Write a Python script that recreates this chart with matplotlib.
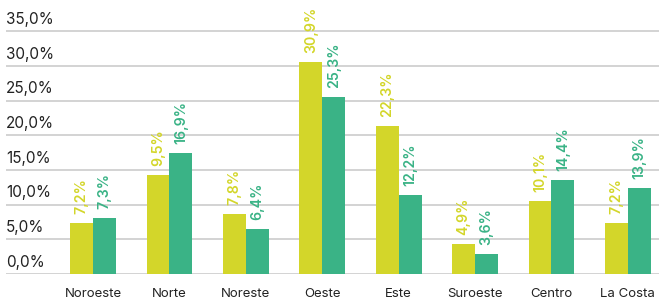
import matplotlib.pyplot as plt
import matplotlib.transforms as mtransforms
import numpy as np

plt.rcParams['font.family'] = ['Inter', 'DejaVu Sans']

regions = ['Noroeste', 'Norte', 'Noreste', 'Oeste', 'Este', 'Suroeste', 'Centro', 'La Costa']
# bar heights as drawn
yellow_vals = [7.35, 14.3, 8.65, 30.5, 21.3, 4.3, 10.5, 7.35]
green_vals = [8.05, 17.4, 6.5, 25.5, 11.4, 2.9, 13.5, 12.4]
# labels printed on the bars
yellow_labels = ['7,2%', '9,5%', '7,8%', '30,9%', '22,3%', '4,9%', '10,1%', '7,2%']
green_labels = ['7,3%', '16,9%', '6,4%', '25,3%', '12,2%', '3,6%', '14,4%', '13,9%']
yticks = [0, 5, 10, 15, 20, 25, 30, 35]

yellow = '#d3d62a'
green = '#3ab386'

fig = plt.figure(figsize=(6.59, 3.02), dpi=100)
ax = fig.add_axes([6 / 659, 28 / 302, 653 / 659, 274 / 302])

x = np.arange(len(regions))
w = 0.30
ax.bar(x - w / 2, yellow_vals, w, color=yellow, zorder=3)
ax.bar(x + w / 2, green_vals, w, color=green, zorder=3)

off = mtransforms.offset_copy(ax.transData, fig=fig, x=0, y=6.5, units='points')
for i in range(len(regions)):
    ax.text(x[i] - w / 2, yellow_vals[i], yellow_labels[i], rotation=90, ha='center', va='bottom',
            color=yellow, fontsize=10.2, fontweight='semibold', transform=off)
    ax.text(x[i] + w / 2, green_vals[i], green_labels[i], rotation=90, ha='center', va='bottom',
            color=green, fontsize=10.2, fontweight='semibold', transform=off)

for t in yticks:
    ax.axhline(t, color='#cccccc', lw=1.2, zorder=1)
    ax.annotate('%d,0%%' % t, xy=(0, t), xycoords=('axes fraction', 'data'),
                xytext=(0, 3), textcoords='offset points', ha='left', va='bottom',
                fontsize=11, color='#222222')

ax.set_xlim(-1.139, 7.408)
ax.set_ylim(0, 39.5)
for s in ax.spines.values():
    s.set_visible(False)
ax.set_yticks([])
ax.set_xticks(x)
ax.set_xticklabels(regions, fontsize=9.5, color='#222222')
ax.tick_params(axis='x', length=0, pad=10)

fig.savefig('out.png', dpi=100)
